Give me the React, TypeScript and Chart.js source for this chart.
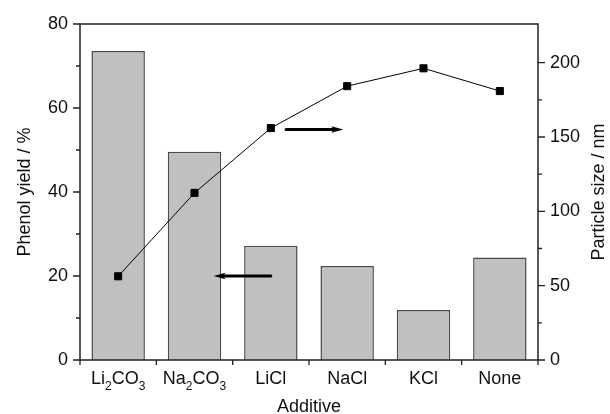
import React, { useEffect, useRef } from "react";
import { Chart, registerables } from "chart.js";

Chart.register(...registerables);

const categories = ["Li2CO3", "Na2CO3", "LiCl", "NaCl", "KCl", "None"];
const phenolYield = [73.6, 49.6, 27.2, 22.4, 11.9, 24.4];
const particleSize = [56.3, 112.4, 156.0, 184.2, 196.2, 180.9];
const leftTicks = [0, 20, 40, 60, 80];
const leftMinor = [10, 30, 50, 70];
const rightTicks = [0, 50, 100, 150, 200];
const rightMinor = [25, 75, 125, 175];
// arrows in data coordinates: x as category index (fractional), y as axis value
const arrows = [
  { axis: "y", y: 20, fromX: 2.0, toX: 1.25 },
  { axis: "y1", y: 155, fromX: 2.2, toX: 2.95 },
];

const FONT = "'Liberation Sans', Arial, Helvetica, sans-serif";
const INK = "#111";

const framePlugin = {
  id: "framePlugin",
  afterDraw(chart: any) {
    const ctx = chart.ctx;
    const { left, right, top, bottom } = chart.chartArea;
    const x = chart.scales.x;
    const y = chart.scales.y;
    const y1 = chart.scales.y1;
    const n = categories.length;
    const cw = (right - left) / n;
    const px = (i: number) => left + (i + 0.5) * cw;

    ctx.save();
    // frame
    ctx.strokeStyle = "#222";
    ctx.lineWidth = 1.5;
    ctx.strokeRect(left, top, right - left, bottom - top);

    // ticks
    ctx.lineWidth = 1.3;
    ctx.beginPath();
    leftTicks.forEach((v) => {
      const py = y.getPixelForValue(v);
      ctx.moveTo(left, py);
      ctx.lineTo(left - 7, py);
    });
    leftMinor.forEach((v) => {
      const py = y.getPixelForValue(v);
      ctx.moveTo(left, py);
      ctx.lineTo(left - 4, py);
    });
    rightTicks.forEach((v) => {
      const py = y1.getPixelForValue(v);
      ctx.moveTo(right, py);
      ctx.lineTo(right + 7, py);
    });
    rightMinor.forEach((v) => {
      const py = y1.getPixelForValue(v);
      ctx.moveTo(right, py);
      ctx.lineTo(right + 4, py);
    });
    for (let i = 0; i <= n; i++) {
      const xx = left + i * cw;
      ctx.moveTo(xx, bottom);
      ctx.lineTo(xx, bottom + 5);
    }
    ctx.stroke();

    // arrows
    ctx.strokeStyle = "#000";
    ctx.fillStyle = "#000";
    arrows.forEach((a) => {
      const sc = a.axis === "y" ? y : y1;
      const py = sc.getPixelForValue(a.y);
      const x0 = px(a.fromX);
      const x1 = px(a.toX);
      const dir = Math.sign(x1 - x0);
      const head = 12;
      ctx.lineWidth = 3;
      ctx.lineCap = "round";
      ctx.beginPath();
      ctx.moveTo(x0, py);
      ctx.lineTo(x1 - dir * head * 0.6, py);
      ctx.stroke();
      ctx.beginPath();
      ctx.moveTo(x1, py);
      ctx.lineTo(x1 - dir * head, py - 3.2);
      ctx.lineTo(x1 - dir * head * 0.8, py);
      ctx.lineTo(x1 - dir * head, py + 3.2);
      ctx.closePath();
      ctx.fill();
    });

    // x tick labels with subscripts
    ctx.fillStyle = INK;
    ctx.textBaseline = "alphabetic";
    ctx.textAlign = "left";
    const mainFont = `18px ${FONT}`;
    const subFont = `12px ${FONT}`;
    categories.forEach((label, i) => {
      const parts: { t: string; sub: boolean }[] = [];
      label.split(/(\d+)/).forEach((p) => {
        if (p) parts.push({ t: p, sub: /^\d+$/.test(p) });
      });
      let w = 0;
      parts.forEach((p) => {
        ctx.font = p.sub ? subFont : mainFont;
        w += ctx.measureText(p.t).width;
      });
      let cx = x.getPixelForValue(i) - w / 2;
      const base = bottom + 24;
      parts.forEach((p) => {
        ctx.font = p.sub ? subFont : mainFont;
        ctx.fillText(p.t, cx, p.sub ? base + 6 : base);
        cx += ctx.measureText(p.t).width;
      });
    });

    // axis titles
    ctx.font = mainFont;
    ctx.textAlign = "center";
    ctx.fillText("Additive", (left + right) / 2, 412);
    const cy = (top + bottom) / 2;
    ctx.save();
    ctx.translate(30, cy);
    ctx.rotate(-Math.PI / 2);
    ctx.fillText("Phenol yield / %", 0, 0);
    ctx.restore();
    ctx.save();
    ctx.translate(604, cy);
    ctx.rotate(-Math.PI / 2);
    ctx.fillText("Particle size / nm", 0, 0);
    ctx.restore();

    ctx.restore();
  },
};

export default function App() {
  const ref = useRef<HTMLCanvasElement | null>(null);
  useEffect(() => {
    if (!ref.current) return;
    const chart = new Chart(ref.current, {
      type: "bar",
      data: {
        labels: categories,
        datasets: [
          {
            type: "line",
            label: "Particle size",
            data: particleSize,
            yAxisID: "y1",
            borderColor: "#000",
            borderWidth: 1,
            pointStyle: "rect",
            pointRadius: 5,
            pointBackgroundColor: "#000",
            pointBorderColor: "#000",
            pointBorderWidth: 1,
            order: 0,
          } as any,
          {
            type: "bar",
            label: "Phenol yield",
            data: phenolYield,
            yAxisID: "y",
            backgroundColor: "#c0c0c0",
            borderColor: "#4a4a4a",
            borderWidth: 1.5,
            borderSkipped: "bottom",
            barPercentage: 0.7,
            categoryPercentage: 1.0,
            order: 1,
          },
        ],
      },
      options: {
        animation: false,
        responsive: false,
        layout: { padding: { top: 24, left: 0, right: 0, bottom: 0 } },
        plugins: { legend: { display: false }, tooltip: { enabled: false } },
        scales: {
          x: {
            type: "category",
            grid: { display: false, drawTicks: false },
            border: { display: false },
            ticks: { display: false },
            afterFit: (s: any) => {
              s.height = 54;
            },
          },
          y: {
            position: "left",
            min: 0,
            max: 80,
            grid: { display: false, drawTicks: false },
            border: { display: false },
            ticks: {
              stepSize: 20,
              padding: 12,
              color: INK,
              font: { family: FONT, size: 18 },
            },
            afterFit: (s: any) => {
              s.width = 80;
            },
          },
          y1: {
            position: "right",
            min: 0,
            max: 226,
            grid: { display: false, drawTicks: false },
            border: { display: false },
            ticks: {
              stepSize: 50,
              padding: 12,
              color: INK,
              font: { family: FONT, size: 18 },
            },
            afterBuildTicks: (s: any) => {
              s.ticks = s.ticks.filter((t: any) => t.value % 50 === 0);
            },
            afterFit: (s: any) => {
              s.width = 72;
            },
          },
        },
      },
      plugins: [framePlugin],
    });
    return () => chart.destroy();
  }, []);
  return (
    <div style={{ position: "absolute", left: 0, top: 0, width: 610, height: 414, background: "#fff" }}>
      <canvas ref={ref} width={610} height={414} />
    </div>
  );
}
